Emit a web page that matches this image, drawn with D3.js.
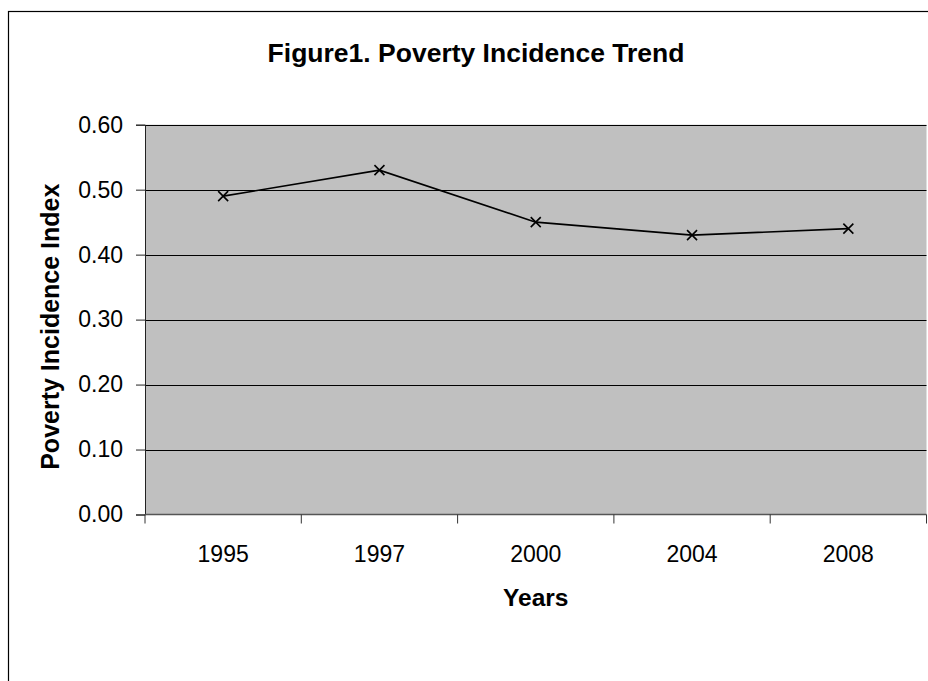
<!DOCTYPE html>
<html>
<head>
<meta charset="utf-8">
<script src="https://cdn.jsdelivr.net/npm/d3@7"></script>
<style>
  html, body { margin: 0; padding: 0; background: #fff; }
  svg { display: block; font-family: "Liberation Sans", Arial, sans-serif; }
</style>
</head>
<body>
<svg id="chart" width="928" height="681"></svg>
<script>
const years = ["1995", "1997", "2000", "2004", "2008"];
const povertyIndex = [0.49, 0.53, 0.45, 0.43, 0.44];
const yTickValues = [0, 0.1, 0.2, 0.3, 0.4, 0.5, 0.6];
const titleText = "Figure1. Poverty Incidence Trend";
const xTitle = "Years";
const yTitle = "Poverty Incidence Index";

const svg = d3.select("#chart");
const W = 928, H = 681;
const plot = { left: 145, right: 926.5, top: 124.7, bottom: 514.5 };

// chart frame
svg.append("rect")
  .attr("x", 8.5).attr("y", 11.5)
  .attr("width", 940).attr("height", 700)
  .attr("fill", "#fff").attr("stroke", "#000").attr("stroke-width", 1.2);

const x = d3.scaleBand().domain(years).range([plot.left, plot.right]).padding(0);
const y = d3.scaleLinear().domain([0, 0.6]).range([plot.bottom, plot.top]);

// plot background
svg.append("rect")
  .attr("x", plot.left).attr("y", plot.top)
  .attr("width", plot.right - plot.left).attr("height", plot.bottom - plot.top)
  .attr("fill", "#c0c0c0");

// gridlines
svg.append("g").selectAll("line")
  .data(yTickValues.filter(v => v > 0))
  .join("line")
  .attr("x1", plot.left).attr("x2", plot.right)
  .attr("y1", d => Math.round(y(d)) + 0.5).attr("y2", d => Math.round(y(d)) + 0.5)
  .attr("stroke", "#000").attr("stroke-width", 1);

// y axis
const yAxis = d3.axisLeft(y).tickValues(yTickValues).tickFormat(d3.format(".2f")).tickSize(9).tickPadding(13);
const gy = svg.append("g").attr("transform", `translate(${plot.left},0)`).call(yAxis);
gy.select(".domain").attr("stroke", "#222").attr("stroke-width", 1);
gy.selectAll(".tick line").attr("stroke", "#222");
gy.selectAll(".tick text").attr("font-size", 23).attr("fill", "#000")
  .attr("font-family", "'Liberation Sans', Arial, sans-serif");

// x axis: ticks at band boundaries, labels at band centers
const gx = svg.append("g");
gx.append("line")
  .attr("x1", plot.left).attr("x2", plot.right)
  .attr("y1", plot.bottom).attr("y2", plot.bottom)
  .attr("stroke", "#555").attr("stroke-width", 1.5);
const boundaries = years.map(d => x(d)).concat([x(years[years.length - 1]) + x.bandwidth()]);
gx.selectAll("line.tk").data(boundaries).join("line").attr("class", "tk")
  .attr("x1", d => d).attr("x2", d => d)
  .attr("y1", plot.bottom).attr("y2", plot.bottom + 9)
  .attr("stroke", "#333").attr("stroke-width", 1);
gx.selectAll("text").data(years).join("text")
  .attr("x", d => x(d) + x.bandwidth() / 2)
  .attr("y", 561.5)
  .attr("text-anchor", "middle")
  .attr("font-size", 23)
  .attr("fill", "#000")
  .text(d => d);

// line
const line = d3.line()
  .x((d, i) => x(years[i]) + x.bandwidth() / 2)
  .y(d => y(d));
svg.append("path").datum(povertyIndex)
  .attr("d", line).attr("fill", "none")
  .attr("stroke", "#000").attr("stroke-width", 1.6);

// x markers
const m = 5;
const markers = svg.append("g").selectAll("path").data(povertyIndex).join("path")
  .attr("d", (d, i) => {
    const cx = x(years[i]) + x.bandwidth() / 2, cy = y(d);
    return `M${cx - m},${cy - m}L${cx + m},${cy + m}M${cx - m},${cy + m}L${cx + m},${cy - m}`;
  })
  .attr("stroke", "#000").attr("stroke-width", 1.6).attr("fill", "none");

// titles
svg.append("text")
  .attr("x", 476).attr("y", 61.5)
  .attr("text-anchor", "middle")
  .attr("font-size", 26.5).attr("font-weight", "bold")
  .text(titleText);

svg.append("text")
  .attr("x", (plot.left + plot.right) / 2).attr("y", 605.5)
  .attr("text-anchor", "middle")
  .attr("font-size", 24.5).attr("font-weight", "bold")
  .text(xTitle);

svg.append("text")
  .attr("transform", `translate(59,326.7) rotate(-90)`)
  .attr("text-anchor", "middle")
  .attr("font-size", 25).attr("font-weight", "bold")
  .text(yTitle);
</script>
</body>
</html>
